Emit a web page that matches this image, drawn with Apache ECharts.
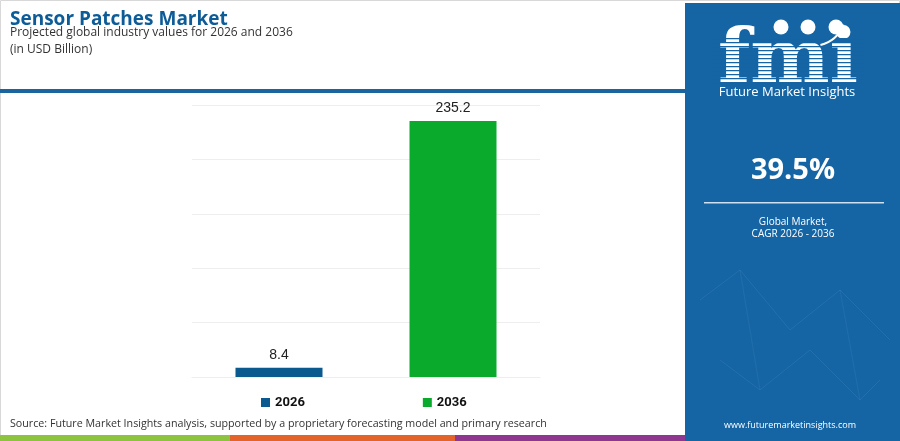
<!DOCTYPE html>
<html>
<head>
<meta charset="utf-8">
<script src="https://cdn.jsdelivr.net/npm/echarts@6/dist/echarts.min.js"></script>
<style>html,body{margin:0;padding:0;background:#fff}#c{width:900px;height:441px}</style>
</head>
<body>
<div id="c"></div>
<script>
const categories = ['2026', '2036'];
const seriesNames = ['2026', '2036'];
const values2026 = [8.4, '-'];
const values2036 = ['-', 235.2];
const cagrText = '39.5%';

const PANEL = '#1565a5';
const chart = echarts.init(document.getElementById('c'));

const graphics = [
  { type: 'rect', shape: { x: 0.5, y: 0.5, width: 899, height: 440 }, style: { fill: 'none', stroke: '#d8d8d8', lineWidth: 1 }, z: 0 },
  { type: 'rect', shape: { x: 0, y: 89, width: 686, height: 4 }, style: { fill: '#1a64a0' } },
  { type: 'rect', shape: { x: 0, y: 435, width: 230, height: 6 }, style: { fill: '#8cc43f' } },
  { type: 'rect', shape: { x: 230, y: 435, width: 225, height: 6 }, style: { fill: '#e4632b' } },
  { type: 'rect', shape: { x: 455, y: 435, width: 231, height: 6 }, style: { fill: '#8e3690' } },
  { type: 'rect', shape: { x: 685, y: 3, width: 215, height: 438 }, style: { fill: PANEL } },
  // faint network lines
  { type: 'polyline', shape: { points: [[700,300],[740,270],[790,330],[840,290],[890,340]] }, style: { stroke: 'rgba(255,255,255,0.06)', lineWidth: 1, fill: 'none' } },
  { type: 'polyline', shape: { points: [[720,360],[760,390],[810,350],[860,400],[880,380]] }, style: { stroke: 'rgba(255,255,255,0.06)', lineWidth: 1, fill: 'none' } },
  { type: 'polyline', shape: { points: [[740,270],[760,390]] }, style: { stroke: 'rgba(255,255,255,0.05)', lineWidth: 1, fill: 'none' } },
  { type: 'polyline', shape: { points: [[840,290],[860,400]] }, style: { stroke: 'rgba(255,255,255,0.05)', lineWidth: 1, fill: 'none' } },
  // titles
  { type: 'text', left: 10, top: 10, style: { text: 'Sensor Patches Market', fill: '#0d5c97', font: 'bold 19px "Open Sans", sans-serif' } },
  { type: 'text', left: 10, top: 27, style: { text: 'Projected global industry values for 2026 and 2036', fill: '#333', font: '12px "Open Sans", sans-serif' } },
  { type: 'text', left: 10, top: 44, style: { text: '(in USD Billion)', fill: '#333', font: '12px "Open Sans", sans-serif' } },
  { type: 'text', left: 10, top: 418, style: { text: 'Source: Future Market Insights analysis, supported by a proprietary forecasting model and primary research', fill: '#333', font: '10.7px "Open Sans", sans-serif' } },
  // logo
  { type: 'text', x: 788, y: 63, style: { text: 'fmi', fill: '#fff', font: 'bold 75px "DejaVu Serif", serif', textAlign: 'center', textVerticalAlign: 'middle' } },
  { type: 'circle', shape: { cx: 781, cy: 27, r: 7.5 }, style: { fill: '#fff' }, z: 11 },
  { type: 'circle', shape: { cx: 808, cy: 27, r: 7.5 }, style: { fill: '#fff' }, z: 11 },
  { type: 'circle', shape: { cx: 836, cy: 27, r: 7.5 }, style: { fill: '#fff' }, z: 11 },
  { type: 'arc', shape: { cx: 812, cy: 12, r: 34, startAngle: Math.PI * 0.12, endAngle: Math.PI * 0.42 }, style: { stroke: '#fff', lineWidth: 2, fill: 'none' }, z: 11 },
  { type: 'text', x: 787, y: 92, style: { text: 'Future Market Insights', fill: '#fff', font: '13px "Open Sans", sans-serif', textAlign: 'center', textVerticalAlign: 'middle' } },
  { type: 'text', x: 793, y: 171, style: { text: cagrText, fill: '#fff', font: 'bold 29px "Open Sans", sans-serif', textAlign: 'center', textVerticalAlign: 'middle' } },
  { type: 'rect', shape: { x: 704, y: 202, width: 180, height: 1.5 }, style: { fill: 'rgba(255,255,255,0.8)' } },
  { type: 'text', x: 793, y: 222, style: { text: 'Global Market,', fill: '#fff', font: '10px "Open Sans", sans-serif', textAlign: 'center', textVerticalAlign: 'middle' } },
  { type: 'text', x: 793, y: 234, style: { text: 'CAGR 2026 - 2036', fill: '#fff', font: '10px "Open Sans", sans-serif', textAlign: 'center', textVerticalAlign: 'middle' } },
  { type: 'text', x: 790, y: 425, style: { text: 'www.futuremarketinsights.com', fill: '#fff', font: '9px "Open Sans", sans-serif', textAlign: 'center', textVerticalAlign: 'middle' } }
];
// stripes over logo
for (let y = 38; y < 83; y += 4) {
  graphics.push({ type: 'rect', shape: { x: 712, y: y, width: 152, height: 1.2 }, style: { fill: PANEL }, z: 10 });
}

chart.setOption({
  animation: false,
  textStyle: { fontFamily: '"Liberation Sans", Arial, sans-serif' },
  graphic: graphics,
  grid: { left: 192, right: 360, top: 105, bottom: 64 },
  legend: {
    data: seriesNames,
    left: 256, top: 391,
    itemWidth: 9, itemHeight: 9, itemGap: 118,
    icon: 'rect',
    textStyle: { fontSize: 13, fontWeight: 'bold', color: '#111', fontFamily: 'Roboto, sans-serif' }
  },
  xAxis: {
    type: 'category', data: categories,
    axisLine: { lineStyle: { color: '#eeeeee' } },
    axisTick: { show: false }, axisLabel: { show: false }
  },
  yAxis: {
    type: 'value', min: 0, max: 250, interval: 50,
    axisLabel: { show: false }, axisLine: { show: false }, axisTick: { show: false },
    splitLine: { lineStyle: { color: '#eeeeee' } }
  },
  series: [
    { name: seriesNames[0], type: 'bar', data: values2026, barWidth: 87, barGap: '-100%',
      itemStyle: { color: '#0b5a8f' },
      label: { show: true, position: 'top', distance: 6, fontSize: 14, color: '#222' } },
    { name: seriesNames[1], type: 'bar', data: values2036, barWidth: 87,
      itemStyle: { color: '#0aab2c' },
      label: { show: true, position: 'top', distance: 6, fontSize: 14, color: '#222' } }
  ]
});
</script>
</body>
</html>
